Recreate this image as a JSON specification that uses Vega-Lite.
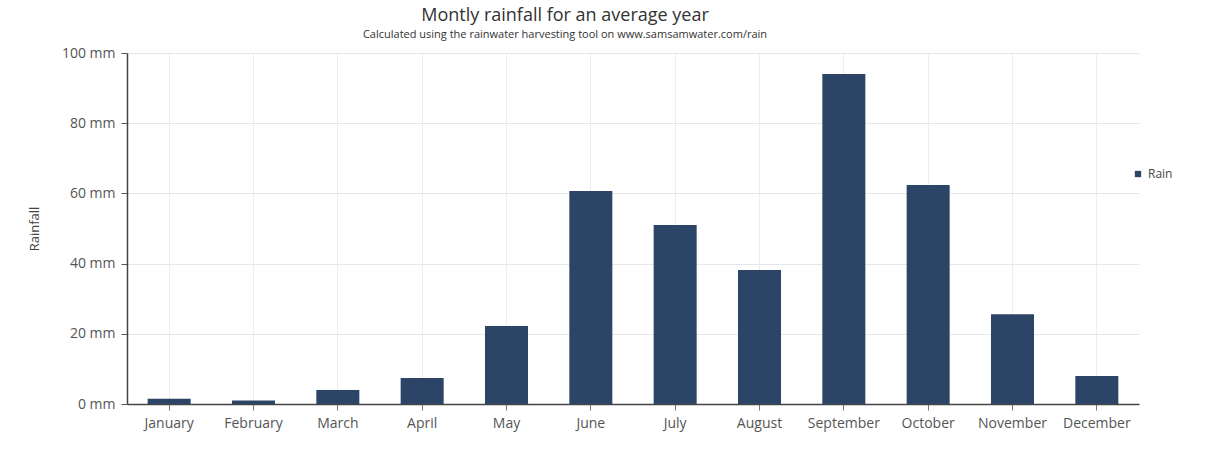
{
  "$schema": "https://vega.github.io/schema/vega-lite/v6.json",
  "width": 1012,
  "height": 351,
  "autosize": {"type": "none"},
  "padding": {"left": 127, "top": 53, "right": 71, "bottom": 48},
  "background": "white",
  "title": {
    "text": "Montly rainfall for an average year",
    "subtitle": "Calculated using the rainwater harvesting tool on www.samsamwater.com/rain",
    "anchor": "middle",
    "frame": "group",
    "dx": -68,
    "offset": 6,
    "font": "Open Sans",
    "fontSize": 18,
    "fontWeight": "normal",
    "color": "#333333",
    "subtitleFont": "Open Sans",
    "subtitleFontSize": 11,
    "subtitleColor": "#333333",
    "subtitlePadding": 4
  },
  "data": {
    "values": [
      {"month": "January", "rain": 1.5, "series": "Rain"},
      {"month": "February", "rain": 1.0, "series": "Rain"},
      {"month": "March", "rain": 4.0, "series": "Rain"},
      {"month": "April", "rain": 7.4, "series": "Rain"},
      {"month": "May", "rain": 22.2, "series": "Rain"},
      {"month": "June", "rain": 60.7, "series": "Rain"},
      {"month": "July", "rain": 51.0, "series": "Rain"},
      {"month": "August", "rain": 38.2, "series": "Rain"},
      {"month": "September", "rain": 94.0, "series": "Rain"},
      {"month": "October", "rain": 62.4, "series": "Rain"},
      {"month": "November", "rain": 25.6, "series": "Rain"},
      {"month": "December", "rain": 8.0, "series": "Rain"}
    ]
  },
  "mark": {"type": "bar"},
  "encoding": {
    "x": {
      "field": "month",
      "type": "nominal",
      "sort": null,
      "scale": {"paddingInner": 0.49, "paddingOuter": 0.245},
      "axis": {
        "title": null,
        "labelAngle": 0,
        "labelFont": "Open Sans",
        "labelFontSize": 14,
        "labelColor": "#555555",
        "labelPadding": 6,
        "tickSize": 6,
        "tickColor": "#777777",
        "domainColor": "#444444",
        "domainWidth": 1.5,
        "grid": true,
        "gridColor": "#ececf2"
      }
    },
    "y": {
      "field": "rain",
      "type": "quantitative",
      "scale": {"domain": [0, 100], "nice": false},
      "axis": {
        "title": "Rainfall",
        "titleFont": "Open Sans",
        "titleFontSize": 13,
        "titleFontWeight": "normal",
        "titleColor": "#444444",
        "titlePadding": 20,
        "values": [0, 20, 40, 60, 80, 100],
        "labelExpr": "datum.value + ' mm'",
        "labelFont": "Open Sans",
        "labelFontSize": 14,
        "labelColor": "#555555",
        "labelPadding": 6,
        "tickSize": 6,
        "tickColor": "#555555",
        "domainColor": "#444444",
        "domainWidth": 1.5,
        "gridColor": "#e6e6ee"
      }
    },
    "color": {
      "field": "series",
      "type": "nominal",
      "scale": {"range": ["#2c4566"]},
      "legend": {
        "title": null,
        "orient": "none",
        "legendX": 1005,
        "legendY": 115,
        "symbolType": "square",
        "symbolSize": 40,
        "labelFont": "Open Sans",
        "labelFontSize": 12,
        "labelColor": "#444444"
      }
    }
  },
  "config": {
    "view": {"stroke": null}
  }
}
